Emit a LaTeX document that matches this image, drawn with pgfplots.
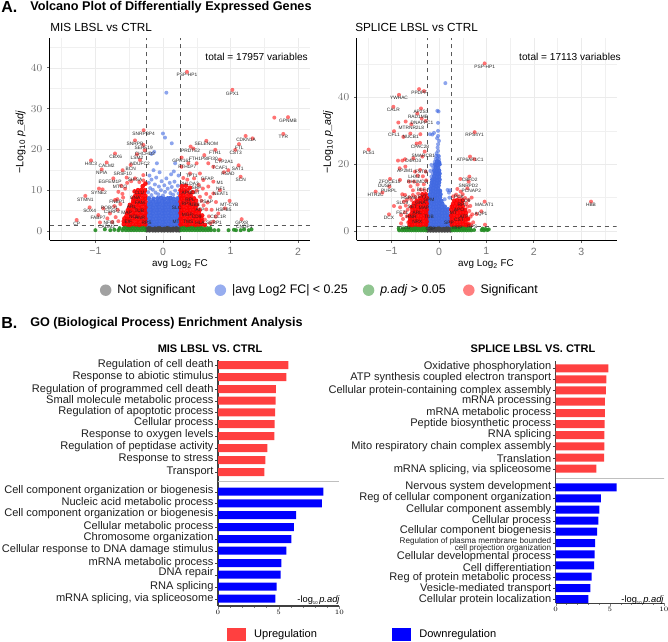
\documentclass[border=0pt]{standalone}
\usepackage{fontspec}
\usepackage{pgfplots}
\pgfplotsset{compat=1.18}
\setmainfont{Liberation Sans}

\definecolor{ptgray}{HTML}{444444}
\definecolor{ptblue}{HTML}{4169E1}
\definecolor{ptgreen}{HTML}{228B22}
\definecolor{ptred}{HTML}{FF0000}
\definecolor{barred}{HTML}{FF4040}
\definecolor{barblue}{HTML}{0000FF}

% filled circle with no outline
\pgfdeclareplotmark{dot}{\pgfpathcircle{\pgfqpoint{0pt}{0pt}}{\pgfplotmarksize}\pgfusepathqfill}

\pgfplotsset{
  volc/.style={
    scale only axis, anchor=south west, axis lines=left, axis line style={-, black, line width=.75pt},
    grid=both, grid style={black!8, line width=.4pt}, minor grid style={black!6, line width=.3pt},
    major tick length=2pt, minor tick length=0pt, tick align=outside,
    tick style={black!60, line width=.5pt},
    ticklabel style={font=\fontsize{7.9}{8}\selectfont, text=black!55},
    xtick pos=bottom, ytick pos=left,
    axis on top=false,
  },
  pt/.style={only marks, mark=dot, mark size=1.5pt, forget plot},
  pgray/.style={pt, mark options={fill=ptgray}},
  pblue/.style={pt, mark options={fill=ptblue, opacity=.6}},
  pbluedense/.style={pt, mark size=1.75pt, mark options={fill=ptblue, opacity=.95}},
  pgreen/.style={pt, mark options={fill=ptgreen, opacity=.9}},
  pred/.style={pt, mark options={fill=ptred, opacity=.55}},
  preddense/.style={pt, mark size=1.75pt, mark options={fill=ptred, opacity=.9}},
  dash/.style={black!65, dashed, line width=.5pt, forget plot},
  bars/.style={
    scale only axis, anchor=south west, axis lines=left, axis line style={-, black!75, line width=.8pt},
    y dir=reverse, xmin=0, xmax=10, xtick={0,5,10}, minor x tick num=4,
    tick align=outside, major tick length=2.2pt, minor tick length=1.3pt,
    xtick pos=bottom, ytick pos=left,
    xticklabel style={font=\fontsize{5}{5}\selectfont\bfseries, inner ysep=1pt},
    yticklabel style={font=\fontsize{8.3}{8.3}\selectfont, text=black!88, inner xsep=1pt, align=right},
    ytick style={draw=none},
    extra tick style={ytick style={draw=black!75}},
    extra y tick labels={},
    legend image code/.code={\fill[##1, draw=none] (0pt,-5pt) rectangle (14.25pt,5pt);},
    legend style={draw=none, fill=none, font=\fontsize{8.3}{8.3}\selectfont},
  },
  bar/.style={xbar, bar width=6pt, bar shift=0pt, draw=none, forget plot},
}
\tikzset{
  gene/.style={font=\fontsize{3.6}{3.6}\selectfont, text=black!85, inner sep=0pt},
}
\newcommand\la[3]{\node[gene] at (#1/3,#2/3) {#3};}
\newcommand\lb[3]{\node[gene] at (334+#1/3,#2/3) {#3};}
\newcommand\tinysub[1]{\raisebox{-.35ex}{\fontsize{3.2}{3.2}\selectfont #1}}

\begin{document}
\begin{tikzpicture}[x=.75pt,y=-.75pt]
\path[use as bounding box] (0,0) rectangle (668,642);

% ---- volcano left
\begin{axis}[volc, at={(37.28pt,-180.23pt)}, width=195.2pt, height=151.7pt,
  xmin=-1.676, xmax=2.175, ymin=-2.28, ymax=47.3,
  xtick={-1,0,1,2}, xticklabels={−1,0,1,2}, minor xtick={-1.5,-.5,.5,1.5},
  ytick={0,10,20,30,40}, minor ytick={5,15,25,35,45},
  legend columns=4,
  legend style={at={(rel axis cs:0.192,-0.205)}, anchor=north west, draw=none, fill=none,
    font=\fontsize{9.3}{9.3}\selectfont,
    /tikz/column 2/.style={column sep=12.5pt}, /tikz/column 4/.style={column sep=9.3pt}, /tikz/column 6/.style={column sep=11pt},
    inner sep=0pt},
  legend cell align=left,
  legend image code/.code={\fill[#1, draw=none] (0pt,0pt) circle (4.3pt);},
]
\addlegendimage{fill=ptgray, fill opacity=.5}
\addlegendentry{\hspace{2.5pt}Not significant}
\addlegendimage{fill=ptblue, fill opacity=.55}
\addlegendentry{\hspace{2.5pt}|avg Log2 FC| < 0.25}
\addlegendimage{fill=ptgreen, fill opacity=.5}
\addlegendentry{\hspace{2.5pt}\textit{p.adj} > 0.05}
\addlegendimage{fill=ptred, fill opacity=.5}
\addlegendentry{\hspace{2.5pt}Significant}
% not significant
\addplot[pgray] coordinates {
(-.24,.1)(-.2,.1)(-.15,.1)(-.11,.1)(-.07,.1)(-.02,.1)(.02,.1)(.07,.1)(.11,.1)(.15,.1)(.2,.1)(.24,.1)
(-.24,.6)(-.2,.6)(-.15,.6)(-.11,.6)(-.07,.6)(-.02,.6)(.02,.6)(.07,.6)(.11,.6)(.15,.6)(.2,.6)(.24,.6)
(-.24,1.05)(-.2,1.05)(-.15,1.05)(-.11,1.05)(-.07,1.05)(-.02,1.05)(.02,1.05)(.07,1.05)(.11,1.05)(.15,1.05)(.2,1.05)(.24,1.05)
};
% |avg log2 FC| < 0.25
\addplot[pbluedense] coordinates {
(-.24,1.6)(-.19,1.7)(-.15,1.5)(-.1,1.6)(-.06,1.7)(-.01,1.5)(.03,1.6)(.08,1.7)(.12,1.5)(.17,1.6)(.21,1.7)(.24,1.5)
(-.23,2.3)(-.18,2.4)(-.14,2.2)(-.09,2.3)(-.05,2.4)(0,2.2)(.04,2.3)(.09,2.4)(.13,2.2)(.18,2.3)(.23,2.4)
(-.24,3)(-.19,3.1)(-.15,2.9)(-.1,3)(-.06,3.1)(-.01,2.9)(.03,3)(.08,3.1)(.12,2.9)(.17,3)(.21,3.1)(.24,2.9)
(-.23,3.7)(-.18,3.8)(-.14,3.6)(-.09,3.7)(-.05,3.8)(0,3.6)(.04,3.7)(.09,3.8)(.13,3.6)(.18,3.7)(.23,3.8)
(-.24,4.4)(-.19,4.5)(-.15,4.3)(-.1,4.4)(-.06,4.5)(-.01,4.3)(.03,4.4)(.08,4.5)(.12,4.3)(.17,4.4)(.21,4.5)(.24,4.3)
(-.23,5.1)(-.18,5.2)(-.14,5)(-.09,5.1)(-.05,5.2)(0,5)(.04,5.1)(.09,5.2)(.13,5)(.18,5.1)(.23,5.2)
(-.24,5.8)(-.19,5.9)(-.15,5.7)(-.1,5.8)(-.06,5.9)(-.01,5.7)(.03,5.8)(.08,5.9)(.12,5.7)(.17,5.8)(.21,5.9)(.24,5.7)
(-.22,6.5)(-.18,6.6)(-.14,6.4)(-.09,6.5)(-.05,6.6)(0,6.4)(.04,6.5)(.09,6.6)(.13,6.4)(.18,6.5)(.22,6.6)
(-.2,7.2)(-.15,7.3)(-.1,7.1)(-.06,7.2)(-.01,7.3)(.03,7.1)(.08,7.2)(.12,7.3)(.17,7.1)(.21,7.2)
(-.21,8)(-.14,7.9)(-.08,8)(-.03,8.1)(.02,7.9)(.07,8)(.11,8.1)(.16,7.9)(.22,8)
};
\addplot[pblue] coordinates {
(.05,33.9)(0,23.9)(.03,22.9)(.13,21.5)(-.17,18.9)(-.13,19.4)(-.09,16.6)(.18,16.6)(-.14,14.9)(.16,14.6)(.12,13.9)(-.05,14.4)
(-.2,13.6)(.23,13.6)(-.1,13.1)(.05,12.9)(-.17,12.6)(.17,12.1)(-.02,12.2)(.1,11.8)(-.21,11.8)(-.12,11.4)(.02,11.2)(.22,11.1)
(-.06,10.9)(.13,10.8)(-.19,10.5)(.07,10.4)(-.15,10.1)(-.03,10)(.18,9.9)(.03,9.6)(-.11,9.4)(.11,9.3)(-.22,9.5)(.23,9.2)
(-.07,9)(.15,8.9)(-.17,8.8)(0,8.7)
};
% p.adj > 0.05
\addplot[pgreen] coordinates {
(-.27,.2)(-.31,.2)(-.35,.2)(-.39,.2)(-.43,.2)(-.47,.2)(-.51,.2)(-.55,.2)(-.6,.2)(-.66,.2)
(-.29,.7)(-.33,.7)(-.37,.7)(-.41,.7)(-.45,.7)(-.49,.7)(-.53,.7)(-.58,.7)(-.64,.7)
(-.27,1.1)(-.31,1.1)(-.35,1.1)(-.39,1.1)(-.43,1.1)(-.47,1.1)(-.51,1.1)(-.56,1.1)
(-.72,.3)(-.78,.2)(-.86,.4)(-1,0.2)
(.27,.2)(.31,.2)(.35,.2)(.39,.2)(.43,.2)(.47,.2)(.51,.2)(.55,.2)(.59,.2)(.63,.2)(.67,.2)(.71,.2)(.76,.2)(.82,.2)
(.29,.7)(.33,.7)(.37,.7)(.41,.7)(.45,.7)(.49,.7)(.53,.7)(.57,.7)(.61,.7)(.66,.7)(.7,.7)
(.27,1.1)(.31,1.1)(.35,1.1)(.39,1.1)(.43,1.1)(.47,1.1)(.51,1.1)(.56,1.1)
(.97,.2)(1.05,.3)(1.08,.2)(1.15,.2)(1.2,.4)(1.27,.2)(1.31,.4)
};
% significant
\addplot[pred] coordinates {
(.355,39)(1.026,34.6)(1.85,27.9)(1.647,27.8)(1.78,23.8)(1.223,23.3)(1.326,22.7)(1.124,21.3)(1.07,19.9)
(-.286,24.7)(-.414,22.2)(-.291,21.1)(-.271,19.8)(.641,22.1)(.409,20.7)(.449,20.2)(.774,19.9)(.276,18)(.611,18.6)(.843,17.5)
(-.71,19)(-1.065,17.3)(-.833,16.8)(-.907,15.1)(-.478,16.2)(-.597,14.9)(-.34,17.4)(-.385,18.8)(1.119,16.1)(.966,14.9)(.902,14.4)(1.149,13.3)
(-1.149,8.6)(-.947,10.4)(-.893,10.2)(-1.085,5.8)(-1.277,2.7)(.986,7.4)(.784,7.1)(1.164,2.9)(-.71,7.6)(-.676,7.8)(-.883,5.55)(-.957,3.9)(-.932,2.1)(-.784,4.3)(-.823,3.1)
(-.735,12.9)(-.537,13.1)(-.414,12.9)(-.291,13.7)(.276,15.75)(.375,16.6)(.498,16.6)(.67,16.6)(.745,15.75)(.547,14.1)(.4,14.1)(.597,12.5)(.745,12.1)(.67,10.9)(.843,10)(.745,9.2)(.547,8.4)(.917,5.55)(.818,4.3)(.745,2.3)
(-.62,11.1)(-.56,10.4)(-.66,9.6)(-.6,9.1)(-.53,11.8)(-.47,12.2)(-.35,12)(-.29,12.4)(-.72,6.1)(-.67,5.2)(-.63,6.6)(-.7,3.4)(-.66,2.4)(-.75,2.2)(-.59,8.2)
(.3,13)(.36,12.6)(.46,12.9)(.53,11.3)(.59,10.4)(.5,9.9)(.64,9.1)(.7,8.3)(.66,7)(.6,6.3)(.72,5.2)(.64,5.3)(.78,3.5)(.68,3.6)(.7,1.9)(.62,2.8)(.57,7.4)
};
\addplot[preddense] coordinates {
% left dense
(-.26,1.6)(-.31,1.7)(-.35,1.5)(-.4,1.6)(-.44,1.7)(-.49,1.5)(-.53,1.6)(-.58,1.7)
(-.27,2.3)(-.3,2.4)(-.36,2.2)(-.39,2.3)(-.45,2.4)(-.48,2.2)(-.54,2.3)(-.58,2.4)
(-.26,3)(-.32,3.1)(-.35,2.9)(-.41,3)(-.44,3.1)(-.5,2.9)(-.53,3)(-.57,3.1)
(-.27,3.7)(-.3,3.8)(-.36,3.6)(-.39,3.7)(-.45,3.8)(-.48,3.6)(-.54,3.7)
(-.26,4.4)(-.32,4.5)(-.35,4.3)(-.41,4.4)(-.44,4.5)(-.5,4.3)(-.53,4.4)
(-.27,5.1)(-.3,5.2)(-.36,5)(-.39,5.1)(-.45,5.2)(-.48,5)(-.52,5.1)
(-.26,5.8)(-.32,5.9)(-.35,5.7)(-.41,5.8)(-.44,5.9)(-.5,5.7)
(-.27,6.5)(-.3,6.6)(-.36,6.4)(-.39,6.5)(-.45,6.6)(-.49,6.4)
(-.26,7.2)(-.32,7.3)(-.35,7.1)(-.41,7.2)(-.44,7.3)
(-.27,7.9)(-.3,8)(-.36,7.8)(-.39,7.9)(-.44,8)
(-.26,8.6)(-.32,8.7)(-.36,8.5)(-.41,8.6)
(-.28,9.3)(-.33,9.4)(-.38,9.2)
(-.27,10)(-.32,10.1)(-.37,10)(-.3,11)(-.42,9.7)(-.26,11.6)
% right dense
(.26,1.6)(.3,1.7)(.35,1.5)(.39,1.6)(.44,1.7)(.48,1.5)(.53,1.6)(.57,1.7)(.62,1.5)
(.27,2.3)(.31,2.4)(.36,2.2)(.4,2.3)(.45,2.4)(.49,2.2)(.54,2.3)(.58,2.4)
(.26,3)(.3,3.1)(.35,2.9)(.39,3)(.44,3.1)(.48,2.9)(.53,3)(.57,3.1)
(.27,3.7)(.31,3.8)(.36,3.6)(.4,3.7)(.45,3.8)(.49,3.6)(.54,3.7)(.58,3.8)
(.26,4.4)(.3,4.5)(.35,4.3)(.39,4.4)(.44,4.5)(.48,4.3)(.53,4.4)
(.27,5.1)(.31,5.2)(.36,5)(.4,5.1)(.45,5.2)(.49,5)(.54,5.1)
(.26,5.8)(.3,5.9)(.35,5.7)(.39,5.8)(.44,5.9)(.48,5.7)
(.27,6.5)(.31,6.6)(.36,6.4)(.4,6.5)(.45,6.6)(.5,6.4)
(.26,7.2)(.3,7.3)(.35,7.1)(.39,7.2)(.44,7.3)(.49,7.4)
(.27,7.9)(.31,8)(.36,7.8)(.4,7.9)(.46,8)
(.26,8.6)(.3,8.7)(.35,8.5)(.41,8.6)
(.27,9.3)(.32,9.4)(.38,9.2)(.44,9.5)
(.26,10)(.31,10.1)(.36,10)(.28,11)(.34,11.1)(.4,10.6)
};
\addplot[dash] coordinates {(-.25,-2.28)(-.25,47.3)};
\addplot[dash] coordinates {(.25,-2.28)(.25,47.3)};
\addplot[dash] coordinates {(-1.676,1.3)(2.175,1.3)};
\end{axis}

% ---- volcano right
\begin{axis}[volc, at={(267.53pt,-180.23pt)}, width=195pt, height=151.7pt,
  xmin=-1.736, xmax=3.749, ymin=-2.78, ymax=57.8,
  xtick={-1,0,1,2,3}, xticklabels={−1,0,1,2,3}, minor xtick={-1.5,-.5,.5,1.5,2.5,3.5},
  ytick={0,20,40}, minor ytick={10,30,50},
]
\addplot[pgray] coordinates {
(-.24,.1)(-.18,.1)(-.12,.1)(-.06,.1)(0,.1)(.06,.1)(.12,.1)(.18,.1)(.24,.1)
(-.24,.65)(-.18,.65)(-.12,.65)(-.06,.65)(0,.65)(.06,.65)(.12,.65)(.18,.65)(.24,.65)
(-.24,1.2)(-.18,1.2)(-.12,1.2)(-.06,1.2)(0,1.2)(.06,1.2)(.12,1.2)(.18,1.2)(.24,1.2)
};
\addplot[pbluedense] coordinates {
(-.24,1.9)(-.18,2)(-.12,1.8)(-.06,1.9)(0,2)(.06,1.8)(.12,1.9)(.18,2)(.24,1.8)
(-.23,2.8)(-.17,2.9)(-.11,2.7)(-.05,2.8)(.01,2.9)(.07,2.7)(.13,2.8)(.19,2.9)(.24,2.7)
(-.24,3.7)(-.18,3.8)(-.12,3.6)(-.06,3.7)(0,3.8)(.06,3.6)(.12,3.7)(.18,3.8)(.23,3.6)
(-.23,4.6)(-.17,4.7)(-.11,4.5)(-.05,4.6)(.01,4.7)(.07,4.5)(.13,4.6)(.19,4.7)(.24,4.5)
(-.24,5.5)(-.18,5.6)(-.12,5.4)(-.06,5.5)(0,5.6)(.06,5.4)(.12,5.5)(.18,5.6)
(-.23,6.4)(-.17,6.5)(-.11,6.3)(-.05,6.4)(.01,6.5)(.07,6.3)(.13,6.4)(.19,6.5)
(-.24,7.3)(-.18,7.4)(-.12,7.2)(-.06,7.3)(0,7.4)(.06,7.2)(.12,7.3)
(-.22,8.2)(-.16,8.3)(-.11,8.1)(-.05,8.2)(.01,8.3)(.07,8.1)
(-.23,9.1)(-.17,9.2)(-.11,9)(-.06,9.1)(0,9.2)(.05,9)
(-.2,10)(-.14,10.1)(-.09,9.9)(-.04,10)(.02,10.1)
(-.19,10.9)(-.13,11)(-.08,10.8)(-.03,10.9)(.03,11)
(-.17,11.8)(-.12,11.9)(-.07,11.7)(-.02,11.8)(.02,12)
(-.18,12.7)(-.12,12.8)(-.07,12.6)(-.02,12.7)
(-.16,13.6)(-.11,13.7)(-.06,13.5)(-.01,13.6)
(-.15,14.5)(-.1,14.6)(-.05,14.4)(0,14.5)
(-.14,15.4)(-.09,15.5)(-.04,15.3)(.01,15.4)
(-.1,16.4)(-.05,16.2)(0,16.3)
(-.08,17.3)(-.03,17.1)(.01,17.2)
(-.1,18.1)(-.05,18)(0,18.1)
(-.07,19.1)(-.02,18.9)
(-.08,19.9)(-.03,19.8)(.01,20)
(-.04,20.8)(.0,20.6)
};
\addplot[pblue] coordinates {
(.12,9.5)(.22,10)(.21,11.5)(.18,12.3)(.23,12.2)(-.16,16.3)(-.13,17.2)(-.18,18)(-.12,19)(-.16,19.8)(-.09,20.7)
(-.07,21.6)(-.03,21.7)(0,21.5)
(-.06,22.5)(-.02,22.6)(0,22.4)
(-.05,23.3)(-.02,24)(-.03,25)(-.02,26)(.0,27)(-.04,27.8)(-.02,28.5)(-.02,30)
(-.19,29)(-.105,29.4)(-.14,28.9)(-.035,36)(-.02,32.4)(.134,44.3)(-.01,35.8)
};
\addplot[pgreen] coordinates {
(-.28,.2)(-.33,.2)(-.38,.2)(-.43,.2)(-.48,.2)(-.53,.2)(-.58,.2)(-.63,.2)(-.68,.2)(-.73,.2)(-.78,.2)(-.84,.2)
(-.3,.75)(-.35,.75)(-.4,.75)(-.45,.75)(-.5,.75)(-.55,.75)(-.6,.75)(-.65,.75)(-.7,.75)(-.76,.75)(-.85,.75)
(-.28,1.2)(-.33,1.2)(-.38,1.2)(-.43,1.2)(-.48,1.2)(-.53,1.2)(-.58,1.2)(-.63,1.2)
(.28,.2)(.33,.2)(.38,.2)(.43,.2)(.48,.2)(.53,.2)(.58,.2)(.63,.2)(.68,.2)(.74,.3)
(.3,.75)(.35,.75)(.4,.75)(.45,.75)(.5,.75)(.55,.75)(.6,.75)(.66,.75)
(.28,1.2)(.33,1.2)(.38,1.2)(.43,1.2)(.5,1.2)(.56,1.2)
(.9,.3)(.95,.2)(.98,.6)(1.02,.3)(1.05,.5)(.92,.7)
};
\addplot[pred] coordinates {
(.963,50.2)(-.42,42.5)(-.316,41.9)(-.844,40.8)(-.963,37.2)(-.38,36.7)(-.457,35.2)(-.366,33.7)(-.703,32.8)(-.858,32.5)(-.28,33)(-.584,32)
(-.949,29.9)(-.605,29.2)(-.394,29)(-.752,28.2)(.752,29.6)(-.471,26.2)(-.4,26.4)(-1.484,24.4)(-.302,23.8)(-.541,21.8)(-.352,22.3)(-.865,21.1)(-.774,21.1)(-.717,21.5)(.654,22.3)(.745,21.5)
(-.83,18.8)(-.71,19.3)(-.506,17.8)(-.4,18.3)(-.28,17.8)(-1.034,15.6)(-.823,15.3)(-.633,14.8)(-.527,14.8)(-1.048,13.3)(-1.336,11.8)(-1.195,11.5)(-.774,11)(-.717,10.8)
(.45,15.6)(.64,16.3)(.626,14.8)(.387,12.6)(.598,12.8)(.457,11.8)(.689,10)(.963,8.8)(3.207,8.8)(.893,5.9)(.795,5.1)(.97,1.9)(-1.055,5)(-.95,7.5)(.6,7.3)(.668,4.3)(.633,2.3)
(-.45,16.6)(-.34,16.4)(-.6,13.4)(-.45,13.9)(-.32,14)(-.27,15.2)(-.55,12.2)(-.38,12.4)(-.3,12.2)(-.68,9.3)(-.74,8.8)(-.82,7.1)(-.7,7.6)(-.8,4.8)(-.72,5.6)(-.76,3.6)(-.68,4.4)(-.65,2.6)(-.8,2.3)(-.66,6.4)
(.3,10.4)(.36,10.9)(.42,10.2)(.5,11)(.55,9.9)(.62,9.3)(.48,9.5)(.58,8.2)(.66,7.5)(.64,6)(.7,5)(.62,3.5)(.72,2.6)(.68,1.8)
};
\addplot[preddense] coordinates {
% left dense
(-.27,1.9)(-.33,2)(-.39,1.8)(-.45,1.9)(-.51,2)(-.57,1.8)(-.62,1.9)
(-.26,2.8)(-.32,2.9)(-.38,2.7)(-.44,2.8)(-.5,2.9)(-.56,2.7)(-.62,2.8)
(-.27,3.7)(-.33,3.8)(-.39,3.6)(-.45,3.7)(-.51,3.8)(-.57,3.6)(-.61,3.7)
(-.26,4.6)(-.32,4.7)(-.38,4.5)(-.44,4.6)(-.5,4.7)(-.56,4.5)(-.62,4.6)
(-.27,5.5)(-.33,5.6)(-.39,5.4)(-.45,5.5)(-.51,5.6)(-.57,5.4)
(-.26,6.4)(-.32,6.5)(-.38,6.3)(-.44,6.4)(-.5,6.5)(-.56,6.3)
(-.27,7.3)(-.33,7.4)(-.39,7.2)(-.45,7.3)(-.51,7.4)(-.58,7.2)
(-.26,8.2)(-.32,8.3)(-.38,8.1)(-.45,8.2)(-.53,8.3)
(-.27,9.1)(-.33,9.2)(-.39,9)(-.47,9.1)
(-.26,10)(-.33,10.1)(-.4,9.9)
(-.28,11)(-.35,11)
% right dense
(.27,1.9)(.33,2)(.39,1.8)(.45,1.9)(.51,2)(.57,1.8)(.62,1.9)
(.26,2.8)(.32,2.9)(.38,2.7)(.44,2.8)(.5,2.9)(.56,2.7)
(.27,3.7)(.33,3.8)(.39,3.6)(.45,3.7)(.51,3.8)(.57,3.6)(.61,3.7)
(.26,4.6)(.32,4.7)(.38,4.5)(.44,4.6)(.5,4.7)(.56,4.5)
(.27,5.5)(.33,5.6)(.39,5.4)(.45,5.5)(.51,5.6)(.57,5.4)
(.26,6.4)(.32,6.5)(.38,6.3)(.44,6.4)(.5,6.5)(.55,6.3)
(.27,7.3)(.33,7.4)(.39,7.2)(.45,7.3)(.5,7.4)
(.3,8.2)(.36,8.3)(.42,8.1)(.48,8.2)
(.32,9.1)(.38,9.2)(.44,9)(.5,9.1)
};
\addplot[pred] coordinates {(-.58,9.3)(-.5,10.2)(-.62,10)(-.44,11.2)(-.55,10.8)};
\addplot[dash] coordinates {(-.25,-2.78)(-.25,57.8)};
\addplot[dash] coordinates {(.25,-2.78)(.25,57.8)};
\addplot[dash] coordinates {(-1.736,1.3)(3.749,1.3)};
\end{axis}

% ---- bars left
\begin{axis}[bars, at={(163.5pt,-454.5pt)}, width=91pt, height=184.5pt,
  ymin=150, ymax=888,
  ytick={165,201,238,271,305,338,374,409,447,486,542,577,612,649,683,720,757,789,829,865},
  yticklabels={Regulation of cell death,Response to abiotic stimulus,Regulation of programmed cell death,Small molecule metabolic process,Regulation of apoptotic process,Cellular process,Response to oxygen levels,Regulation of peptidase activity,Response to stress,Transport,Cell component organization or biogenesis,Nucleic acid metabolic process,Cell component organization or biogenesis,Cellular metabolic process,Chromosome organization,Cellular response to DNA damage stimulus,mRNA metabolic process,DNA repair,RNA splicing,{mRNA splicing, via spliceosome}},
  extra y ticks={165,201,237,272,307,342,378,414,450,486,545,580,615,651,687,722,759,794,830,866},
  legend style={at={(rel axis cs:.074,-.116)}, anchor=west, inner sep=0pt},
]
\addlegendimage{fill=barred}
\addlegendentry{\hspace{4pt}Upregulation}
\addplot[bar, fill=barred] coordinates {(5.8,165)(5.63,201)(4.78,237)(4.75,272)(4.7,307)(4.67,342)(4.64,378)(4.07,414)(3.9,450)(3.82,486)};
\addplot[bar, fill=barblue] coordinates {(8.68,545)(8.57,580)(6.43,615)(6.26,651)(6.04,687)(5.63,722)(5.22,759)(5.16,794)(4.84,830)(4.73,866)};
\addplot[black!25, line width=.6pt, forget plot] coordinates {(0,515)(10,515)};
\end{axis}

% ---- bars right
\begin{axis}[bars, at={(416.8pt,-452.3pt)}, width=81.2pt, height=181.3pt,
  ymin=155, ymax=880,
  ytick={170,205,242,272,309,342,375,411,447,481,531,565,600,632,662,706,741,773,804,838,871},
  yticklabels={Oxidative phosphorylation,ATP synthesis coupled electron transport,Cellular protein-containing complex assembly,mRNA processing,mRNA metabolic process,Peptide biosynthetic process,RNA splicing,Mito respiratory chain complex assembly,Translation,{mRNA splicing, via spliceosome},Nervous system development,Reg of cellular component organization,Cellular component assembly,Cellular process,Cellular component biogenesis,{\fontsize{6.1}{6}\selectfont Regulation of plasma membrane bounded\\[-3pt]\fontsize{6.1}{6}\selectfont cell projection organization},Cellular developmental process,Cell differentiation,Reg of protein metabolic process,Vesicle-mediated transport,Cellular protein localization},
  extra y ticks={176,209,242,276,310,343,376,410,444,477,533,566,600,633,666,700,734,767,801,835,868},
  legend style={at={(rel axis cs:-1.512,-.129)}, anchor=west, inner sep=0pt},
]
\addlegendimage{fill=barblue}
\addlegendentry{\hspace{4pt}Downregulation}
\addplot[bar, fill=barred] coordinates {(4.86,176)(4.68,209)(4.62,242)(4.55,276)(4.55,310)(4.52,343)(4.49,376)(4.49,410)(4.46,444)(3.75,477)};
\addplot[bar, fill=barblue] coordinates {(5.63,533)(4.18,566)(4.03,600)(3.94,633)(3.82,666)(3.63,700)(3.6,734)(3.54,767)(3.32,801)(3.2,835)(3.02,868)};
\addplot[black!25, line width=.6pt, forget plot] coordinates {(0,505)(10.4,505)};
\end{axis}

% ---- texts
\node[anchor=west, inner sep=0pt, font=\fontsize{12}{12}\selectfont\bfseries] at (1,7) {A.};
\node[anchor=west, inner sep=0pt, font=\fontsize{9.5}{9}\selectfont\bfseries] at (30,7) {Volcano Plot of Differentially Expressed Genes};
\node[anchor=west, inner sep=0pt, font=\fontsize{12}{12}\selectfont\bfseries] at (1,323) {B.};
\node[anchor=west, inner sep=0pt, font=\fontsize{9.45}{9}\selectfont\bfseries] at (30,323) {GO (Biological Process) Enrichment Analysis};
\node[anchor=west, inner sep=0pt, font=\fontsize{8.8}{9}\selectfont] at (50,27.7) {MIS LBSL vs CTRL};
\node[anchor=west, inner sep=0pt, font=\fontsize{8.8}{9}\selectfont] at (355,27.7) {SPLICE LBSL vs CTRL};
\node[anchor=east, inner sep=0pt, font=\fontsize{7.6}{9}\selectfont] at (308,57) {total = 17957 variables};
\node[anchor=east, inner sep=0pt, font=\fontsize{7.6}{9}\selectfont] at (621,57) {total = 17113 variables};
\node[inner sep=0pt, font=\fontsize{7.4}{8}\selectfont] at (180,264) {avg Log\textsubscript{2} FC};
\node[inner sep=0pt, font=\fontsize{7.4}{8}\selectfont] at (486,264) {avg Log\textsubscript{2} FC};
\node[inner sep=0pt, rotate=90, font=\fontsize{8}{8}\selectfont] at (20.5,142) {−Log\textsubscript{10} \textit{p\_adj}};
\node[inner sep=0pt, rotate=90, font=\fontsize{8}{8}\selectfont] at (328,142) {−Log\textsubscript{10} \textit{p\_adj}};
\node[inner sep=0pt, font=\fontsize{8.25}{8}\selectfont\bfseries] at (210,349) {MIS LBSL VS. CTRL};
\node[inner sep=0pt, font=\fontsize{8.25}{8}\selectfont\bfseries] at (533,349) {SPLICE LBSL VS. CTRL};
\node[anchor=east, inner sep=0pt, font=\fontsize{7}{7}\selectfont] at (340,600.5) {-log\tinysub{10}\,\textit{p.adj}};
\node[anchor=east, inner sep=0pt, font=\fontsize{7}{7}\selectfont] at (664,600.5) {-log\tinysub{10}\,\textit{p.adj}};

% ---- gene labels
\la{561}{226}{PSP-HP1}\la{697}{281}{GPX1}\la{864}{362}{GPNMB}\la{850}{412}{TYR}\la{431}{401}{SNRPBP4}\la{405}{431}{SNRPB}
\la{431}{444}{SERF19}\la{435}{462}{CHCHD2}\la{411}{473}{LSM2}\la{347}{471}{CBX6}\la{273}{492}{H4C3}\la{320}{498}{CALM2}
\la{420}{492}{NDUFC2}\la{392}{507}{BCN}\la{305}{518}{NPIA}\la{368}{522}{SRSF10}\la{330}{545}{EGFEM1P}\la{405}{541}{SHISA}
\la{297}{578}{SYNE2}\la{256}{599}{STMN1}\la{269}{633}{SOX4}\la{294}{655}{FABP7}\la{351}{606}{FNBP1}\la{328}{624}{ROBO1}
\la{336}{637}{CSRP2}\la{327}{669}{NFIB}\la{320}{682}{CADM2}\la{230}{671}{CP}\la{619}{433}{SELENOM}\la{572}{452}{PRDTE2}
\la{645}{459}{FTH1}\la{718}{443}{FTL}\la{707}{460}{CST3}\la{738}{420}{CDKN1A}\la{713}{508}{SAT1}\la{545}{483}{GPR161}
\la{594}{477}{FTH1P8}\la{637}{476}{IFI30}\la{672}{487}{CYP2A1}\la{660}{503}{TCAF1}\la{684}{521}{RSAD}\la{722}{540}{SCN}
\la{568}{551}{PHLDA3}\la{660}{550}{M1}\la{662}{566}{NF1}\la{662}{581}{NEAT1}\la{620}{606}{PSAP}\la{688}{614}{MT-CYB}
\la{671}{631}{HSPB5}\la{655}{651}{CCL1R}\la{642}{668}{SERP1}\la{725}{669}{GPX8}\la{733}{681}{CNDP1}
\la{562}{500}{FTH1P7}\la{575}{527}{TPT1}\la{622}{538}{GFAP}\la{590}{563}{SRP}\la{360}{560}{MTCO}\la{420}{610}{FAM}
\la{380}{640}{MAP}\la{440}{668}{RPS}\la{385}{665}{EIF}\la{530}{625}{SLC}\la{528}{665}{MT}\la{570}{600}{RPL}\la{600}{630}{ATP}
\la{405}{595}{GNA}\la{395}{620}{ARL}\la{418}{632}{TUB}\la{402}{650}{NCL}\la{420}{655}{HNR}\la{418}{578}{CLU}
\la{560}{580}{APO}\la{585}{580}{CST}\la{560}{612}{RPS}\la{585}{615}{UBB}\la{562}{645}{MGP}\la{590}{650}{CD9}\la{565}{665}{TMS}\la{600}{670}{HLA}
\lb{452}{201}{PSP-HP1}\lb{256}{279}{PPDPF}\lb{195}{294}{YWHAC}\lb{178}{330}{CALR}\lb{261}{337}{AP2S1}\lb{252}{352}{RAD1MB}
\lb{264}{368}{DNAPPC1}\lb{232}{384}{MTRNR2L8}\lb{180}{404}{CFL1}\lb{230}{411}{NUCB1}\lb{422}{405}{RPS4Y1}\lb{258}{440}{CPAC28}
\lb{104}{459}{PLS1}\lb{268}{467}{SMARCB1}\lb{408}{481}{ATP6AP1C1}\lb{238}{484}{D4RO3}\lb{213}{512}{AP2M1}\lb{262}{517}{FSTB}
\lb{241}{531}{LHX2}\lb{167}{546}{ZFOCE10}\lb{250}{546}{RHUMD2}\lb{152}{558}{DUSP}\lb{165}{574}{PURPL}\lb{125}{585}{HTR2C}
\lb{407}{540}{CBFD2}\lb{403}{558}{SNRPD2}\lb{412}{574}{PCNAP2}\lb{225}{593}{HSPA8}\lb{205}{610}{SLC9}\lb{165}{653}{DCX}
\lb{205}{638}{FEZ1}\lb{451}{616}{MALAT1}\lb{441}{644}{AQP1}\lb{771}{615}{HBB}
\lb{262}{570}{BLF}\lb{285}{600}{GPM}\lb{270}{625}{MAP}\lb{285}{650}{TUB}\lb{250}{667}{NRX}\lb{215}{685}{CLU}\lb{290}{686}{CSP}
\lb{375}{590}{PCK}\lb{385}{615}{RPL}\lb{358}{640}{MT}\lb{390}{650}{ATP}\lb{345}{670}{SPP}\lb{370}{685}{MRP}\lb{415}{680}{RPS}
\lb{260}{610}{GNA}\lb{250}{640}{ARL}\lb{235}{622}{SET}\lb{232}{652}{HNR}\lb{265}{590}{SYT}
\lb{375}{630}{APO}\lb{375}{660}{CST}\lb{395}{603}{CD9}
\end{tikzpicture}
\end{document}
